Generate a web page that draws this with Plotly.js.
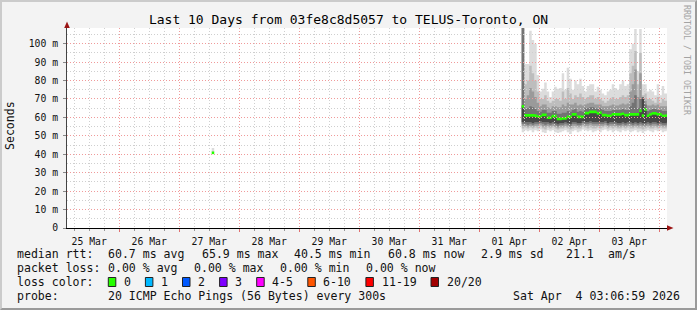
<!DOCTYPE html>
<html><head><meta charset="utf-8">
<script src="https://cdn.plot.ly/plotly-3.0.1.min.js"></script>
<style>
html,body{margin:0;padding:0;background:#f3f3f3;}
#wrap{position:relative;width:697px;height:310px;overflow:hidden;}
#chart{position:absolute;left:0;top:0;width:697px;height:310px;}
#frame{position:absolute;left:0;top:0;width:697px;height:310px;box-sizing:border-box;border-top:2px solid #cbcbcb;border-left:2px solid #cbcbcb;border-right:2px solid #9a9a9a;border-bottom:2px solid #9a9a9a;pointer-events:none;}
</style></head><body>
<div id="wrap"><div id="chart"></div><div id="frame"></div></div>
<script>
// ---------------- data ----------------
const titleText = "Last 10 Days from 03fe8c8d5057 to TELUS-Toronto, ON";
const yAxisTitle = "Seconds";
const rangeStart = "2026-03-25 03:07:00";
const rangeEnd = "2026-04-04 03:07:00";
const seriesStart = "2026-04-01 17:00:00";   // first hourly bucket of the dense series
const isoStart = "2026-03-27 13:00:00";      // lone sample on 27 Mar
const yTickValues = [0, 10, 20, 30, 40, 50, 60, 70, 80, 90, 100];
const yTickLabels = ["0", "10 m", "20 m", "30 m", "40 m", "50 m", "60 m", "70 m", "80 m", "90 m", "100 m"];

// median RTT (ms), hourly
const median = [66, 61.1, 61.1, 61.1, 61.1, 61, 60.5, 60.5, 61.4, 61.4,
  59.8, 59.8, 60.7, 60.7, 59.2, 59.2, 59.5, 59.5, 60.3, 60.3,
  61.6, 61.6, 60.3, 60.3, 60.3, 62.3, 62.3, 63, 63, 63,
  62.2, 62.6, 61.2, 61.2, 60.9, 60.9, 61.6, 61.6, 61.6, 61.6,
  62, 61.2, 61.2, 61.6, 61.6, 61.6, 61.6, 63.5, 61, 64.3,
  60.9, 61.6, 62.2, 62.2, 61.6, 61.6, 60.9, 60.9, 61.2];
// smoke: outermost pair (min / max ping)
const pingMin = [52, 53, 52.5, 53, 52, 53, 52.5, 53.5, 52, 51.5,
  53, 52.5, 53, 52, 51.5, 52, 52.5, 53, 52, 51,
  52.5, 53, 52, 52.5, 53.5, 53, 52.5, 53, 52, 52.5,
  53, 52, 53, 53.5, 52.5, 53, 52, 53, 52.5, 52,
  53, 52.5, 53, 52, 52.5, 53, 52, 52.5, 51.5, 52.5,
  53, 52.5, 52, 53, 52.5, 53, 52, 52.5, 53];
const pingMax = [112, 89, 89, 107, 102, 100, 83, 74, 75.5, 79,
  74, 71, 74, 76.6, 75.5, 76, 84, 75, 87, 81,
  75, 80, 78, 81, 77, 74, 77, 78, 78, 74,
  76.6, 75, 73, 72, 74, 75, 78, 76, 75, 78,
  80, 77, 78, 97, 100, 108, 85, 108, 78, 78,
  74, 75, 74, 72, 78, 72, 77, 73, 73];
// second pair
const band2Low = [54, 54.5, 54, 54.5, 54, 54.5, 54, 55, 54, 53.5,
  54.5, 54, 54.5, 54, 53.5, 54, 54, 54.5, 54, 53.5,
  54, 54.5, 54, 54, 55, 54.5, 54, 54.5, 54, 54,
  54.5, 54, 54.5, 55, 54, 54.5, 54, 54.5, 54, 54,
  54.5, 54, 54.5, 54, 54, 54.5, 54, 54, 53.5, 54,
  54.5, 54, 54, 54.5, 54, 54.5, 54, 54, 54.5];
const band2High = [110, 78, 80, 88, 84, 80, 74, 70, 70, 72,
  69, 68, 69, 70, 70, 69, 74, 70, 76, 73,
  70, 72, 71, 73, 71, 70, 71, 72, 72, 70,
  71, 70, 69, 68, 69, 70, 71, 70, 70, 71,
  72, 71, 72, 84, 88, 96, 78, 95, 72, 73,
  70, 70, 69, 68, 71, 68, 70, 69, 69];
// third pair
const band3Low = [55.5, 55.5, 55, 55.5, 55, 55.5, 55.5, 56, 55, 55,
  55.5, 55, 55.5, 55, 54.5, 55, 55, 55.5, 55, 54.5,
  55.5, 55.5, 55, 55, 56, 55.5, 55.5, 56, 55.5, 55.5,
  55.5, 55.5, 55.5, 56, 55, 55.5, 55.5, 55.5, 55, 55,
  55.5, 55, 55.5, 55.5, 55, 55.5, 55, 55.5, 55, 55,
  55.5, 55, 55.5, 55.5, 55, 55.5, 55, 55, 55.5];
const band3High = [110, 70, 72, 76, 74, 71, 68, 66, 67, 67,
  65.5, 65, 66, 66, 65.5, 65.5, 67, 66, 68, 67,
  67, 68, 66.5, 67, 66.5, 67, 67.5, 68, 68, 67,
  67, 67, 66, 66, 66, 66.5, 67, 66.5, 66.5, 67,
  67.5, 67, 67.5, 74, 78, 86, 71, 84, 70, 69,
  66.5, 66.5, 67, 66.5, 67, 66, 66, 66, 66];
// fourth pair
const band4Low = [56.5, 56.5, 56, 56.5, 56, 56.5, 56.5, 57, 56.5, 56,
  56.5, 56, 56.5, 56, 55.5, 56, 56, 56.5, 56, 55.5,
  56.5, 56.5, 56, 56, 57, 56.5, 56.5, 57, 56.5, 56.5,
  56.5, 56.5, 56.5, 57, 56, 56.5, 56.5, 56.5, 56, 56,
  56.5, 56, 56.5, 56.5, 56, 56.5, 56, 56.5, 56, 56,
  56.5, 56, 56.5, 56.5, 56, 56.5, 56, 56, 56.5];
const band4High = [110, 64.5, 65, 66, 65.5, 64.5, 63.5, 63, 64, 64,
  62.5, 62.5, 63.5, 63.5, 62, 62, 62.5, 62.5, 63.5, 63,
  64, 64.5, 63, 63.5, 63, 65, 65, 65.5, 65.5, 65,
  64.5, 65, 64, 63.5, 63.5, 63.5, 64, 64, 64, 64,
  64.5, 64, 64, 66, 68, 72, 65, 70, 71, 67,
  63.5, 64, 64.5, 64.5, 64, 64, 63.5, 63.5, 63.5];
// innermost pair
const band5Low = [57.5, 57.5, 57.5, 57.5, 57, 57.5, 57.5, 58, 57.5, 57.5,
  57.5, 57, 57.5, 57, 56.5, 57, 57, 57.5, 57, 56.5,
  57.5, 57.5, 57, 57, 58, 57.5, 57.5, 58, 57.5, 57.5,
  57.5, 57.5, 57.5, 58, 57, 57.5, 57.5, 57.5, 57, 57,
  57.5, 57, 57.5, 57.5, 57, 57.5, 57, 57.5, 57, 57,
  57.5, 57, 57.5, 57.5, 57, 57.5, 57, 57, 57.5];
const band5High = [66, 61, 61, 61, 61, 61, 60.5, 60.5, 61.3, 61.3,
  60, 60, 60.7, 60.7, 59.3, 59.3, 59.6, 59.6, 60.3, 60.3,
  61.5, 61.5, 60.3, 60.3, 60.3, 62.2, 62.2, 62.8, 62.8, 62.8,
  62.2, 62.5, 61.2, 61.2, 61, 61, 61.5, 61.5, 61.5, 61.5,
  62, 61.2, 61.2, 61.5, 61.5, 61.8, 61.5, 63, 70, 63.5,
  61, 61.5, 62, 62, 61.5, 61.5, 61, 61, 61.2];
// lone sample on 27 Mar
const isoMedian = [40.8];
const isoMin = [40.4];
const isoMax = [43.4];

// legend texts
const statsLabel = "median rtt:";
const statsItems = ["60.7 ms avg", "65.9 ms max", "40.5 ms min", "60.8 ms now", "2.9 ms sd", "21.1", "am/s"];
const lossLabel = "packet loss:";
const lossItems = ["0.00 % avg", "0.00 % max", "0.00 % min", "0.00 % now"];
const colorLabel = "loss color:";
const lossLabels = ["0", "1", "2", "3", "4-5", "6-10", "11-19", "20/20"];
const lossColors = ["#26ff00", "#00b8ff", "#0059ff", "#7e00ff", "#ff00ff", "#ff5500", "#ff0000", "#a10000"];
const probeLabel = "probe:";
const probeText = "20 ICMP Echo Pings (56 Bytes) every 300s";
const stampText = "Sat Apr  4 03:06:59 2026";
const sideText = "RRDTOOL / TOBI OETIKER";

// ---------------- styling / layout helpers ----------------
const smokeColors = ["#dcdcdc", "#bdbdbd", "#9a9a9a", "#737373", "#474747"];
const medianColor = "#26ff00";
const medianHalf = 0.72;
const MONO = "DejaVu Sans Mono, monospace";
const HOUR = 3600000;
const L = 67, T = 28, W = 600, Hh = 200;
const px = x => (x - L) / W;
const py = y => (T + Hh - y) / Hh;
const nb = s => s.replace(/ /g, "\u00A0");

function fmt(d) { return d.toISOString().slice(0, 19).replace("T", " "); }
function edgesFrom(start, n) {
  const t0 = Date.parse(start.replace(" ", "T") + "Z");
  const out = [];
  for (let i = 0; i <= n; i++) out.push(fmt(new Date(t0 + i * HOUR)));
  return out;
}
const ext = a => a.concat([a[a.length - 1]]);

const traces = [];
function addBand(xE, lo, hi, color) {
  traces.push({type: "scatter", x: xE, y: ext(lo), mode: "lines", line: {width: 0, shape: "hv"}, hoverinfo: "skip", showlegend: false});
  traces.push({type: "scatter", x: xE, y: ext(hi), mode: "lines", line: {width: 0, shape: "hv"}, fill: "tonexty", fillcolor: color, hoverinfo: "skip", showlegend: false});
}
const edges = edgesFrom(seriesStart, median.length);
const isoEdges = edgesFrom(isoStart, isoMedian.length);

addBand(isoEdges, isoMin, isoMax, smokeColors[0]);
addBand(edges, pingMin, pingMax, smokeColors[0]);
addBand(edges, band2Low, band2High, smokeColors[1]);
addBand(edges, band3Low, band3High, smokeColors[2]);
addBand(edges, band4Low, band4High, smokeColors[3]);
addBand(edges, band5Low, band5High, smokeColors[4]);
addBand(isoEdges, isoMedian.map(v => v - medianHalf), isoMedian.map(v => v + medianHalf), medianColor);
addBand(edges, median.map(v => v - medianHalf), median.map(v => v + medianHalf), medianColor);
// dummy trace so the overlay axes (grid above data) exist
traces.push({type: "scatter", x: [], y: [], xaxis: "x2", yaxis: "y2", hoverinfo: "skip", showlegend: false});

const gridMajor = "#f09a9a", gridMinor = "#cfcfcf", dashPat = "1px,2px";
const tickFont = {family: MONO, size: 9.75, color: "#111"};
const legendFont = {family: MONO, size: 11.55, color: "#111"};

const annotations = [];
function txt(x, y, text, opts) {
  annotations.push(Object.assign({xref: "paper", yref: "paper", x: px(x), y: py(y), text: nb(text), showarrow: false,
    xanchor: "left", yanchor: "middle", font: legendFont, borderpad: 0}, opts || {}));
}
// stats row
const rowY = [254, 268, 282, 296];
txt(16, rowY[0], statsLabel);
const statsX = [107, 200.7, 293.3, 386.7, 480, 565, 607];
statsItems.forEach((s, i) => txt(statsX[i], rowY[0], s));
txt(16, rowY[1], lossLabel);
lossItems.forEach((s, i) => txt(107 + i * 86.1, rowY[1], s));
txt(16, rowY[2], colorLabel);
const shapes = [];
// white plotting area (below data)
shapes.push({type: "rect", xref: "paper", yref: "paper", x0: 0, x1: 1, y0: 0, y1: 1, fillcolor: "#ffffff", line: {width: 0}, layer: "below"});
let bx = 108.3;
lossLabels.forEach((lab, i) => {
  shapes.push({type: "rect", xref: "paper", yref: "paper", x0: px(bx), x1: px(bx + 7.5), y0: py(286.5), y1: py(277.5),
    fillcolor: lossColors[i], line: {color: "#222", width: 1}});
  const lx = bx + 14.6;
  txt(lx, rowY[2], lab);
  bx = lx + lab.length * 7.0 + 15.5;
});
txt(16, rowY[3], probeLabel);
txt(107, rowY[3], probeText);
txt(681, rowY[3], stampText, {xanchor: "right"});
// y axis title and side credit
annotations.push({xref: "paper", yref: "paper", x: px(10), y: py(126), text: yAxisTitle, textangle: -90, showarrow: false,
  xanchor: "center", yanchor: "middle", font: legendFont});
annotations.push({xref: "paper", yref: "paper", x: px(687), y: py(60), text: nb(sideText), textangle: 90, showarrow: false,
  xanchor: "center", yanchor: "middle", font: {family: MONO, size: 8.3, color: "#a3a3a3"}});
// axis arrows
const arrowColor = "#9b1414";
shapes.push({type: "path", xref: "paper", yref: "paper", fillcolor: arrowColor, line: {width: 0},
  path: `M ${px(64.2)} ${py(28)} L ${px(69.8)} ${py(28)} L ${px(67)} ${py(21.5)} Z`});
shapes.push({type: "path", xref: "paper", yref: "paper", fillcolor: arrowColor, line: {width: 0},
  path: `M ${px(667)} ${py(225.2)} L ${px(667)} ${py(230.8)} L ${px(673.5)} ${py(228)} Z`});

const layout = {
  width: 697, height: 310,
  margin: {l: L, r: 697 - L - W, t: T, b: 310 - T - Hh, pad: 0},
  paper_bgcolor: "#f3f3f3", plot_bgcolor: "rgba(0,0,0,0)",
  font: {family: MONO, size: 10, color: "#111"},
  showlegend: false, hovermode: false,
  title: {text: titleText, font: {family: MONO, size: 13, color: "#000"}, x: 0.5, xref: "container", xanchor: "center",
    y: 1 - 19 / 310, yref: "container", yanchor: "middle"},
  xaxis: {type: "date", range: [rangeStart, rangeEnd], domain: [0, 1], showgrid: false, showticklabels: false,
    ticks: "", showline: false, zeroline: false, fixedrange: true},
  yaxis: {range: [0, 108.5], domain: [0, 1], showgrid: false, showticklabels: false, ticks: "", showline: false,
    zeroline: false, fixedrange: true},
  xaxis2: {type: "date", anchor: "y2", domain: [0, 1], range: [rangeStart, rangeEnd],
    tickmode: "linear", tick0: "2026-03-25", dtick: 86400000, ticklabelmode: "period", tickformat: "%d %b",
    showgrid: true, gridcolor: gridMajor, griddash: dashPat, gridwidth: 1,
    ticks: "outside", ticklen: 3, tickcolor: "#e07070", tickwidth: 1,
    showline: true, linecolor: "#000", linewidth: 1, zeroline: false, tickfont: tickFont, ticklabelstandoff: 1,
    minor: {tickmode: "linear", tick0: "2026-03-25", dtick: 21600000, showgrid: true, gridcolor: gridMinor, griddash: dashPat,
      ticks: "outside", ticklen: 2, tickcolor: "#999"},
    fixedrange: true},
  yaxis2: {anchor: "x2", domain: [0, 1], range: [0, 108.5], tickmode: "array", tickvals: yTickValues, ticktext: yTickLabels,
    showgrid: true, gridcolor: gridMajor, griddash: dashPat, gridwidth: 1,
    ticks: "outside", ticklen: 3, tickcolor: "#888", showline: true, linecolor: "#444", linewidth: 1,
    zeroline: false, tickfont: tickFont, ticklabelstandoff: 3,
    minor: {tickmode: "linear", tick0: 0, dtick: 5, showgrid: true, gridcolor: gridMinor, griddash: dashPat},
    fixedrange: true},
  shapes: shapes,
  annotations: annotations
};

Plotly.newPlot("chart", traces, layout, {staticPlot: true, displayModeBar: false});
</script></body></html>
